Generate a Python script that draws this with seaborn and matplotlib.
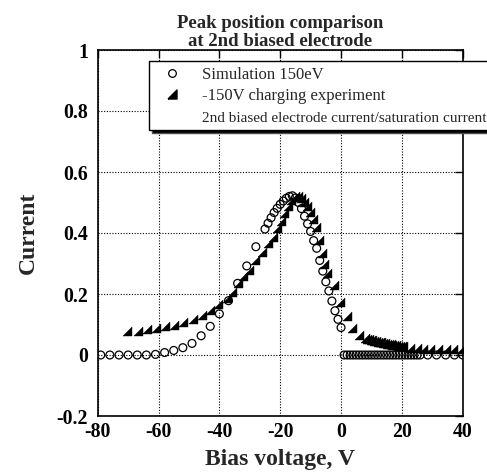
import numpy as np
import pandas as pd
import matplotlib
matplotlib.use("Agg")
import matplotlib.pyplot as plt
from matplotlib.lines import Line2D
import seaborn as sns

# ---------------- data ----------------
sim_voltage = [-79, -76, -73, -70, -67, -64, -61, -58, -55, -52, -49, -46, -43, -40,
               -37, -34, -31, -28, -25, -24, -23, -22, -21, -20, -19, -18, -17, -16,
               -15, -14, -13, -12, -11, -10, -9, -8, -7, -6, -5, -4, -3, -2, -1, 0,
               1, 2, 3, 4, 5, 6, 7, 8, 9, 10, 11, 12, 13, 14, 15, 16, 17, 18, 19,
               20, 21, 22, 23, 24, 25, 26, 28.5, 31.4, 34.4, 37.3, 40]
sim_current = [0.0, 0.0, 0.0, 0.0, 0.0, 0.0, 0.002, 0.008, 0.015, 0.024, 0.038, 0.063,
               0.094, 0.135, 0.178, 0.235, 0.292, 0.355, 0.413, 0.432, 0.450, 0.467,
               0.481, 0.494, 0.505, 0.514, 0.520, 0.522, 0.515, 0.500, 0.480, 0.455,
               0.430, 0.405, 0.375, 0.350, 0.310, 0.275, 0.240, 0.210, 0.177, 0.145,
               0.117, 0.090,
               0.0, 0.0, 0.0, 0.0, 0.0, 0.0, 0.0, 0.0, 0.0, 0.0, 0.0, 0.0, 0.0,
               0.0, 0.0, 0.0, 0.0, 0.0, 0.0, 0.0, 0.0, 0.0, 0.0, 0.0, 0.0, 0.0,
               0.0, 0.0, 0.0, 0.0, 0.0]

exp_voltage = [-70.5, -66.8, -63.7, -60.8, -57.9, -54.9, -52.0, -48.8, -45.8, -43.0,
               -40.3, -37.6, -35.8, -33.8, -32.2, -30.4, -28.3, -26.1, -24.0, -22.3,
               -21.0, -19.8, -18.6, -17.4, -16.3, -15.2, -14.2, -13.2, -12.2, -11.2,
               -10.2, -9.2, -8.2, -7.2, -6.4, -5.6, -4.7, -2.2, -0.2, 1.9, 3.7, 6.0,
               7.9, 8.5, 9.1, 9.7, 10.3, 10.9, 11.5, 12.1, 12.7, 13.3, 13.9, 14.5,
               15.1, 15.7, 16.3, 16.9, 17.5, 18.1, 18.7, 19.3, 19.9, 20.5,
               22.7, 24.9, 27.1, 29.3, 32.0, 34.5, 36.9, 39.3]
exp_current = [0.078, 0.080, 0.085, 0.090, 0.095, 0.100, 0.107, 0.117, 0.132, 0.147,
               0.167, 0.186, 0.207, 0.235, 0.258, 0.279, 0.311, 0.339, 0.366, 0.388,
               0.415, 0.440, 0.465, 0.490, 0.508, 0.520, 0.522, 0.515, 0.503, 0.487,
               0.468, 0.447, 0.420, 0.378, 0.335, 0.300, 0.268, 0.228, 0.175, 0.128,
               0.090, 0.065, 0.055, 0.053, 0.051, 0.050, 0.048, 0.047, 0.045, 0.044,
               0.043, 0.041, 0.040, 0.039, 0.037, 0.036, 0.035, 0.034, 0.033, 0.032,
               0.031, 0.030, 0.029, 0.028,
               0.024, 0.022, 0.021, 0.020, 0.020, 0.019, 0.019, 0.019]

x_ticks = [-80, -60, -40, -20, 0, 20, 40]
x_tick_labels = ["-80", "-60", "-40", "-20", "0", "20", "40"]
y_ticks = [-0.2, 0, 0.2, 0.4, 0.6, 0.8, 1]
y_tick_labels = ["-0.2", "0", "0.2", "0.4", "0.6", "0.8", "1"]

title = "Peak position comparison\nat 2nd biased electrode"
x_label = "Bias voltage, V"
y_label = "Current"
legend_labels = ["Simulation 150eV", "-150V charging experiment",
                 "2nd biased electrode current/saturation current"]

sim_df = pd.DataFrame({"voltage": sim_voltage, "current": sim_current})
exp_df = pd.DataFrame({"voltage": exp_voltage, "current": exp_current})

# ---------------- style ----------------
sns.set_style("white")
plt.rcParams["font.family"] = ["Liberation Serif", "DejaVu Serif"]
plt.rcParams["axes.linewidth"] = 1.2

fig = plt.figure(figsize=(4.87, 4.72), dpi=100)
ax = fig.add_axes([97.7 / 487, 56 / 472, 365 / 487, 366 / 472])

tri = [(-1, -1), (1, -1), (1, 1), (-1, -1)]

sns.scatterplot(data=exp_df, x="voltage", y="current", ax=ax, marker=tri,
                s=42, color="black", edgecolor="black", linewidth=0.3, zorder=3)
sns.scatterplot(data=sim_df, x="voltage", y="current", ax=ax, marker="o",
                s=32, color="black", facecolor="none", edgecolor="black",
                linewidth=0.9, zorder=4)

ax.set_xlim(-80, 40)
ax.set_ylim(-0.2, 1.0)
ax.set_xticks(x_ticks)
ax.set_xticklabels(x_tick_labels)
ax.set_yticks(y_ticks)
ax.set_yticklabels(y_tick_labels)

ax.grid(True, linestyle=(0, (1, 1.5)), color="black", linewidth=0.8)
ax.set_axisbelow(True)
for sp in ax.spines.values():
    sp.set_color("black")
    sp.set_linewidth(1.2)

ax.tick_params(direction="in", top=True, right=True, length=6, width=1,
               labelsize=14.2, colors="black")
ax.tick_params(axis="x", pad=4)
ax.tick_params(axis="y", pad=7)
for lab in ax.get_xticklabels() + ax.get_yticklabels():
    lab.set_fontweight("bold")

ax.set_xlabel(x_label, fontsize=17, fontweight="bold", labelpad=5)
ax.set_ylabel(y_label, fontsize=17, fontweight="bold", labelpad=13)
ax.set_title(title, fontsize=13.5, fontweight="bold", pad=3, linespacing=1.1)

handles = [
    Line2D([], [], linestyle="none", marker="o", markersize=5.5,
           markerfacecolor="none", markeredgecolor="black", markeredgewidth=0.9),
    Line2D([], [], linestyle="none", marker=tri, markersize=6.5,
           markerfacecolor="black", markeredgecolor="black"),
    Line2D([], [], linestyle="none", marker=None),
]
leg = ax.legend(handles, legend_labels, loc="upper left",
                bbox_to_anchor=(149 / 487, 1 - 61 / 472),
                bbox_transform=fig.transFigure, borderaxespad=0,
                fontsize=12, frameon=True, fancybox=False,
                shadow={"facecolor": "black", "alpha": 1.0},
                edgecolor="black", framealpha=1, handlelength=2.05,
                handletextpad=0.8, labelspacing=0.33, borderpad=0.35)
leg.get_frame().set_linewidth(1.0)
texts = leg.get_texts()
texts[2].set_fontsize(11)

fig.savefig("out.png", dpi=100, facecolor="white")
